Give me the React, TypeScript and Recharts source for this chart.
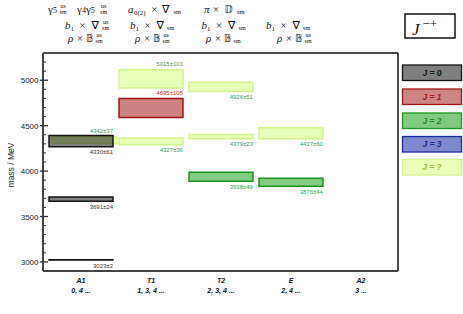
import React from 'react';
import { ComposedChart, XAxis, YAxis, ReferenceArea, ReferenceLine } from 'recharts';

// ---------- data ----------
const channels = ['A1', 'T1', 'T2', 'E', 'A2'];
const channelSpins = ['0, 4 ...', '1, 3, 4 ...', '2, 3, 4 ...', '2, 4 ...', '3 ...'];
const spinKeys = ['0', '1', '2', '3', '?'];
const spinLegend = ['J = 0', 'J = 1', 'J = 2', 'J = 3', 'J = ?'];

// states (drawing order: J=? first so they sit behind)
const stateChannel = ['A1', 'T1', 'T1', 'T2', 'T2', 'E', 'A1', 'A1', 'A1', 'T1', 'T2', 'E'];
const stateSpin = ['?', '?', '?', '?', '?', '?', '0', '0', '0', '1', '2', '2'];
const stateMass = [4342, 4327, 5015, 4379, 4926, 4417, 3023, 3691, 4330, 4695, 3938, 3876];
const stateError = [37, 36, 101, 23, 51, 60, 2, 24, 61, 105, 49, 44];
const labelAbove = [true, false, true, false, false, false, false, false, false, true, false, false];
const boxShift = [0.05, 0, 0, 0, 0, 0, 0, 0, 0, 0, 0, 0];

const yTicks = [3000, 3100, 3200, 3300, 3400, 3500, 3600, 3700, 3800, 3900, 4000, 4100, 4200, 4300, 4400, 4500, 4600, 4700, 4800, 4900, 5000, 5100, 5200];
const yMajorTicks = [3000, 3500, 4000, 4500, 5000];
const xTicks = [0, 1, 2, 3, 4];

// ---------- styles ----------
const X_MIN = -0.543;
const X_MAX = 4.529;
const Y_MIN = 2900;
const Y_MAX = 5300;
const HALF = 0.457;

const spinStyle: Record<string, any> = {
  '0': { fill: '#000000', fillOpacity: 0.5, stroke: '#141414', text: '#333333', legendFill: '#7f7f7f', legendText: '#111111' },
  '1': { fill: '#a81c1c', fillOpacity: 0.55, stroke: '#a01515', text: '#b03030', legendFill: '#cc8582', legendText: '#a01818' },
  '2': { fill: '#1e9e1e', fillOpacity: 0.55, stroke: '#1a961a', text: '#2ea84a', legendFill: '#82ca82', legendText: '#1a8a1a' },
  '3': { fill: '#1c2cb0', fillOpacity: 0.55, stroke: '#1a2a9a', text: '#1a2a9a', legendFill: '#8089cc', legendText: '#1a2a8a' },
  '?': { fill: '#d6ff80', fillOpacity: 0.55, stroke: '#d2f38a', text: '#36a070', legendFill: '#eaffb8', legendText: '#9ab83a' },
};

const sans = "'Liberation Sans', Arial, Helvetica, sans-serif";
const serif = "'Liberation Serif', 'DejaVu Serif', serif";
const dsFont = "'DejaVu Sans', 'DejaVu Serif', 'Noto Sans', sans-serif";

const XTick = (props: any) => {
  const { x, y, payload } = props;
  const i = payload.value;
  return (
    <g>
      <text x={x} y={y + 11.5} textAnchor="middle" fontSize={7} fontWeight="bold" fontStyle="italic" fontFamily={sans} fill="#111">
        {channels[i]}
      </text>
      <text x={x} y={y + 21.5} textAnchor="middle" fontSize={7} fontWeight="bold" fontStyle="italic" fontFamily={sans} fill="#111">
        {channelSpins[i]}
      </text>
    </g>
  );
};

const YTick = (props: any) => {
  const { y, payload } = props;
  const ax = 43;
  const major = yMajorTicks.includes(payload.value);
  return (
    <g>
      {major ? (
        <line x1={ax - 3} x2={ax + 5} y1={y} y2={y} stroke="#333" strokeWidth={1.3} />
      ) : (
        <line x1={ax} x2={ax + 3} y1={y} y2={y} stroke="#333" strokeWidth={1} />
      )}
      {major && (
        <text x={ax - 4.5} y={y + 3} textAnchor="end" fontSize={8} fontFamily={sans} fill="#222">
          {payload.value}
        </text>
      )}
    </g>
  );
};

const Stack = ({ x, y, sup }: { x: number; y: number; sup: boolean }) => (
  <g fontFamily={serif} fontSize={6} fill="#111">
    {sup && (
      <text x={x + 3.6} y={y - 4.5} textAnchor="middle">us</text>
    )}
    <text x={x + 3.6} y={y + 1} textAnchor="middle">sm</text>
  </g>
);

const BTerm = ({ s, y, sup }: { s: number; y: number; sup: boolean }) => (
  <g fill="#111">
    <text x={s} y={y} fontSize={11} fontStyle="italic" fontFamily={serif}>b</text>
    <text x={s + 5.5} y={y + 2} fontSize={7} fontFamily={serif}>1</text>
    <text x={s + 14.5} y={y} fontSize={10.5} fontFamily={serif}>×</text>
    <text x={s + 26.5} y={y} fontSize={11} fontFamily={dsFont}>∇</text>
    <Stack x={s + 37} y={y} sup={sup} />
  </g>
);

const RTerm = ({ s, y, sup }: { s: number; y: number; sup: boolean }) => (
  <g fill="#111">
    <text x={s} y={y} fontSize={11} fontStyle="italic" fontFamily={serif}>ρ</text>
    <text x={s + 9} y={y} fontSize={10.5} fontFamily={serif}>×</text>
    <text x={s + 18} y={y} fontSize={10} fontFamily={dsFont}>𝔹</text>
    <Stack x={s + 27.5} y={y} sup={sup} />
  </g>
);

const Headers = () => {
  const y1 = 12.5;
  const y2 = 28.5;
  const y3 = 41.5;
  return (
    <g>
      {/* line 1 */}
      <text x={48} y={y1} fontSize={11} fontFamily={serif} fill="#111">γ<tspan fontSize={8}>5</tspan></text>
      <Stack x={59.5} y={y1} sup={true} />
      <text x={77} y={y1} fontSize={11} fontFamily={serif} fill="#111">γ<tspan fontSize={8}>4</tspan>γ<tspan fontSize={8}>5</tspan></text>
      <Stack x={100} y={y1} sup={true} />
      <text x={128} y={y1} fontSize={11} fontStyle="italic" fontFamily={serif} fill="#111">a</text>
      <text x={134} y={y1 + 2} fontSize={7} fontFamily={serif} fill="#111">0(2)</text>
      <text x={151.5} y={y1} fontSize={10.5} fontFamily={serif} fill="#111">×</text>
      <text x={162} y={y1} fontSize={11} fontFamily={dsFont} fill="#111">∇</text>
      <text x={173.5} y={y1 + 1} fontSize={6.5} fontFamily={serif} fill="#111">sm</text>
      <text x={204} y={y1} fontSize={11} fontStyle="italic" fontFamily={serif} fill="#111">π</text>
      <text x={213} y={y1} fontSize={10.5} fontFamily={serif} fill="#111">×</text>
      <text x={224.5} y={y1} fontSize={10} fontFamily={dsFont} fill="#111">𝔻</text>
      <text x={237} y={y1 + 1} fontSize={6.5} fontFamily={serif} fill="#111">sm</text>
      {/* line 2 */}
      <BTerm s={65} y={y2} sup={true} />
      <BTerm s={130} y={y2} sup={false} />
      <BTerm s={201.5} y={y2} sup={false} />
      <BTerm s={266} y={y2} sup={false} />
      {/* line 3 */}
      <RTerm s={68} y={y3} sup={true} />
      <RTerm s={135} y={y3} sup={true} />
      <RTerm s={206} y={y3} sup={false} />
      <RTerm s={277} y={y3} sup={true} />
      {/* J^{-+} box */}
      <rect x={405} y={14} width={50} height={24} fill="#fff" stroke="#111" strokeWidth={1.5} />
      <text x={412} y={35} fontSize={17} fontStyle="italic" fontFamily={serif} fill="#111">J</text>
      <text x={422.5} y={28} fontSize={13} fontFamily={serif} fill="#111">−+</text>
      {/* y-axis title */}
      <text x={0} y={0} transform="translate(13.5,165) rotate(-90)" textAnchor="middle" fontSize={8.5} fontFamily={sans} fill="#222">
        mass / MeV
      </text>
    </g>
  );
};

const legendTops = [65, 89, 113, 136.5, 159.5];

const LegendBox = () => (
  <g>
    {spinKeys.map((k, i) => {
      const st = spinStyle[k];
      return (
        <g key={k}>
          <rect x={402.5} y={legendTops[i]} width={59} height={15.5} fill={st.legendFill} stroke={st.stroke} strokeWidth={1.3} />
          <text x={432} y={legendTops[i] + 10.8} textAnchor="middle" fontSize={8.5} fontWeight="bold" fontStyle="italic" fontFamily={sans} fill={st.legendText}>
            {spinLegend[i]}
          </text>
        </g>
      );
    })}
  </g>
);

export default function App() {
  return (
    <div style={{ position: 'absolute', left: 0, top: 0, width: 463, height: 314, background: '#fff' }}>
      <ComposedChart width={463} height={314} margin={{ top: 53, right: 65, bottom: 0, left: 0 }}>
        <XAxis
          type="number"
          dataKey="x"
          domain={[X_MIN, X_MAX]}
          ticks={xTicks}
          interval={0}
          allowDataOverflow
          height={43}
          tickSize={0}
          tickMargin={0}
          tickLine={false}
          axisLine={{ stroke: '#444', strokeWidth: 2 }}
          tick={<XTick />}
        />
        <YAxis
          type="number"
          domain={[Y_MIN, Y_MAX]}
          ticks={yTicks}
          interval={0}
          allowDataOverflow
          width={43}
          tickSize={0}
          tickMargin={0}
          tickLine={false}
          axisLine={{ stroke: '#444', strokeWidth: 2 }}
          tick={<YTick />}
        />
        <ReferenceLine y={Y_MAX} stroke="#111" strokeWidth={1.5} />
        <ReferenceLine x={X_MAX} stroke="#111" strokeWidth={1.5} />
        {stateMass.map((m, i) => {
          const c = channels.indexOf(stateChannel[i]) + boxShift[i];
          const e = stateError[i];
          const st = spinStyle[stateSpin[i]];
          const above = labelAbove[i];
          return (
            <ReferenceArea
              key={i}
              x1={c - HALF}
              x2={c + HALF}
              y1={m - e}
              y2={m + e}
              fill={st.fill}
              fillOpacity={st.fillOpacity}
              stroke={st.stroke}
              strokeWidth={1.5}
              strokeOpacity={1}
              isFront={false}
              label={(p: any) => {
                const vb = p.viewBox || {};
                const tx = vb.x + vb.width - (boxShift[i] ? 3.5 : 0);
                const ty = above ? vb.y - 3.5 : vb.y + vb.height + 7.5;
                return (
                  <text x={tx} y={ty} textAnchor="end" fontSize={6} fontFamily={sans} fill={st.text}>
                    {`${m}±${e}`}
                  </text>
                );
              }}
            />
          );
        })}
      </ComposedChart>
      <svg width={463} height={314} style={{ position: 'absolute', left: 0, top: 0, pointerEvents: 'none' }}>
        <Headers />
        <LegendBox />
      </svg>
    </div>
  );
}
